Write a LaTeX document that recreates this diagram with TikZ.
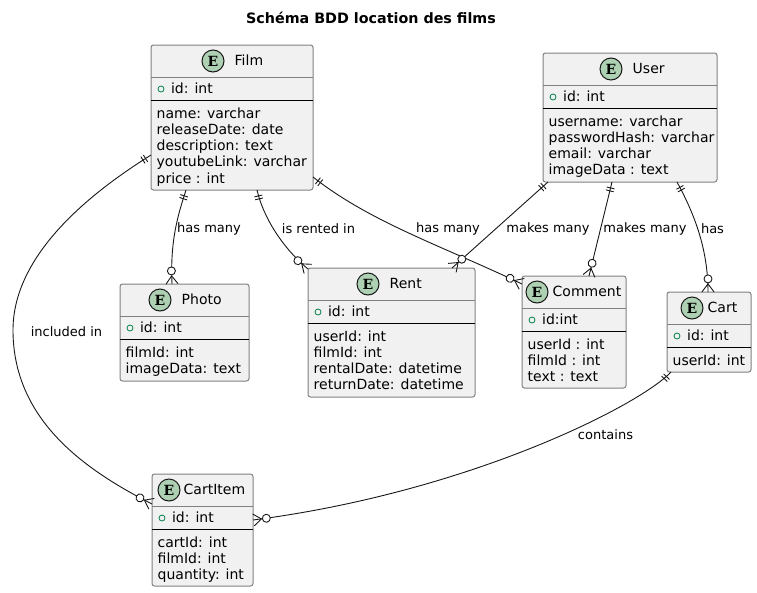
\documentclass[tikz,border=0pt]{standalone}
\usepackage{fontspec}
\setmainfont{DejaVu Sans}
\newfontfamily\badgefont{DejaVu Serif}
\usetikzlibrary{positioning, decorations.markings}
\definecolor{boxfill}{HTML}{F1F1F1}
\definecolor{boxline}{HTML}{808080}
\definecolor{inkline}{HTML}{181818}
\definecolor{badgefill}{HTML}{ADD1B2}
\definecolor{keygreen}{HTML}{038048}

\begin{document}
\begin{tikzpicture}[
    x=1pt, y=-1pt,
    entity/.style={
        draw=boxline,
        fill=boxfill,
        line width=1pt,
        rounded corners=2.5pt,
        anchor=north west,
        outer sep=0pt
    },
    badge/.style={
        draw=inkline,
        fill=badgefill,
        line width=1pt,
        circle,
        minimum size=22pt,
        inner sep=0pt,
        font=\badgefont\bfseries\fontsize{14}{14}\selectfont
    },
    entitle/.style={
        inner sep=0pt,
        text height=10.6pt,
        text depth=2pt,
        font=\fontsize{14}{16}\selectfont
    },
    keydot/.style={
        draw=keygreen,
        line width=0.8pt,
        circle,
        minimum size=6pt,
        inner sep=0pt
    },
    fieldtext/.style={
        inner sep=0pt,
        align=left,
        font=\fontsize{14}{16.2}\selectfont
    },
    linktext/.style={
        inner sep=0pt,
        font=\fontsize{13}{15}\selectfont
    },
    relation/.style={
        draw=inkline,
        line width=0.9pt,
        postaction={decorate},
        decoration={markings,
            mark=at position 0.001 with {
                \draw [inkline, line width=0.9pt] (6,-4) -- (6,4) (9,-4) -- (9,4);
            },
            mark=at position 0.999 with {
                \draw [inkline, line width=0.9pt] (-8,0) -- (0,-6) (-8,0) -- (0,6);
                \draw [inkline, line width=0.9pt, fill=white] (-13,0) circle (4);
            }
        }
    }
]
\useasboundingbox (0,0) rectangle (757,592);

% Nodes
\node (heading) [font=\bfseries\fontsize{14.3}{16}\selectfont] at (371,18) {Schéma BDD location des films};

\node (film) [entity, minimum width=162pt, minimum height=145pt] at (151,45) {};
\node (user) [entity, minimum width=174pt, minimum height=129pt] at (543,53) {};
\node (photo) [entity, minimum width=129pt, minimum height=97pt] at (120,284) {};
\node (rent) [entity, minimum width=167pt, minimum height=129pt] at (308,268) {};
\node (comment) [entity, minimum width=104pt, minimum height=112pt] at (522,276) {};
\node (cart) [entity, minimum width=84pt, minimum height=80pt] at (667,292) {};
\node (cartitem) [entity, minimum width=101pt, minimum height=112pt] at (152,474) {};

\node (filmE) [badge] at ([xshift=62pt,yshift=-16pt]film.north west) {E};
\node (userE) [badge] at ([xshift=68pt,yshift=-16pt]user.north west) {E};
\node (photoE) [badge] at ([xshift=40pt,yshift=-16pt]photo.north west) {E};
\node (rentE) [badge] at ([xshift=60pt,yshift=-16pt]rent.north west) {E};
\node (commentE) [badge] at ([xshift=15pt,yshift=-16pt]comment.north west) {E};
\node (cartE) [badge] at ([xshift=25pt,yshift=-16pt]cart.north west) {E};
\node (cartitemE) [badge] at ([xshift=17pt,yshift=-16pt]cartitem.north west) {E};

\node (filmT) [entitle, right=10pt of filmE] {Film};
\node (userT) [entitle, right=10pt of userE] {User};
\node (photoT) [entitle, right=10pt of photoE] {Photo};
\node (rentT) [entitle, right=10pt of rentE] {Rent};
\node (commentT) [entitle, right=4pt of commentE] {Comment};
\node (cartT) [entitle, right=4pt of cartE] {Cart};
\node (cartitemT) [entitle, right=3pt of cartitemE] {CartItem};

\foreach \ent/\key in {film/id: int, user/id: int, photo/id: int, rent/id: int, comment/id:int, cart/id: int, cartitem/id: int} {
    \draw [boxline] ([yshift=-32pt]\ent.north west) -- ([yshift=-32pt]\ent.north east);
    \draw [black, line width=0.8pt] ([yshift=-55pt]\ent.north west) -- ([yshift=-55pt]\ent.north east);
    \node (\ent D) [keydot] at ([xshift=10pt,yshift=-44pt]\ent.north west) {};
    \node (\ent K) [entitle, right=6.5pt of \ent D] {\key};
}

\node (filmF) [fieldtext, below right=62.4pt and 5.5pt of film.north west] {name: varchar\\releaseDate: date\\description: text\\youtubeLink: varchar\\price : int};
\node (userF) [fieldtext, below right=62.4pt and 5.5pt of user.north west] {username: varchar\\passwordHash: varchar\\email: varchar\\imageData : text};
\node (photoF) [fieldtext, below right=62.4pt and 5.5pt of photo.north west] {filmId: int\\imageData: text};
\node (rentF) [fieldtext, below right=62.4pt and 5.5pt of rent.north west] {userId: int\\filmId: int\\rentalDate: datetime\\returnDate: datetime};
\node (commentF) [fieldtext, below right=62.4pt and 5.5pt of comment.north west] {userId : int\\filmId : int\\text : text};
\node (cartF) [fieldtext, below right=62.4pt and 5.5pt of cart.north west] {userId: int};
\node (cartitemF) [fieldtext, below right=62.4pt and 5.5pt of cartitem.north west] {cartId: int\\filmId: int\\quantity: int};

\coordinate (bend) at (13,330);

% Paths
\draw [relation] ([yshift=-110pt]film.north west) .. controls (100,187) and (13,250) .. (bend) .. controls (13,420) and (85,470) .. ([yshift=-30pt]cartitem.north west);
\draw [relation] ([xshift=35pt]film.south west) .. controls (178,215) and (170,240) .. ([xshift=52pt]photo.north west);
\draw [relation] ([xshift=106pt]film.south west) .. controls (264,220) and (285,250) .. ([yshift=-1pt]rent.north west);
\draw [relation] ([yshift=-132pt]film.north east) .. controls (370,222) and (440,245) .. ([yshift=-8pt]comment.north west);
\draw [relation] ([xshift=5pt]user.south west) -- ([xshift=144pt]rent.north west);
\draw [relation] ([xshift=69pt]user.south west) -- ([xshift=67pt]comment.north west);
\draw [relation] ([xshift=134pt]user.south west) .. controls (695,215) and (708,250) .. ([xshift=41pt]cart.north west);
\draw [relation] ([xshift=4pt]cart.south west) .. controls (640,405) and (470,492) .. ([yshift=-46pt]cartitem.north east);

\node (inclT) [linktext] at (66.5,332) {included in};
\node (photoL) [linktext] at (209,229) {has many};
\node (rentL) [linktext] at (318.5,229) {is rented in};
\node (commentL) [linktext] at (448,229) {has many};
\node (makesL) [linktext] at (548,229) {makes many};
\node (postsL) [linktext] at (645,229) {makes many};
\node (cartL) [linktext] at (712.5,229) {has};
\node (itemsL) [linktext] at (605.5,435) {contains};

\end{tikzpicture}
\end{document}
